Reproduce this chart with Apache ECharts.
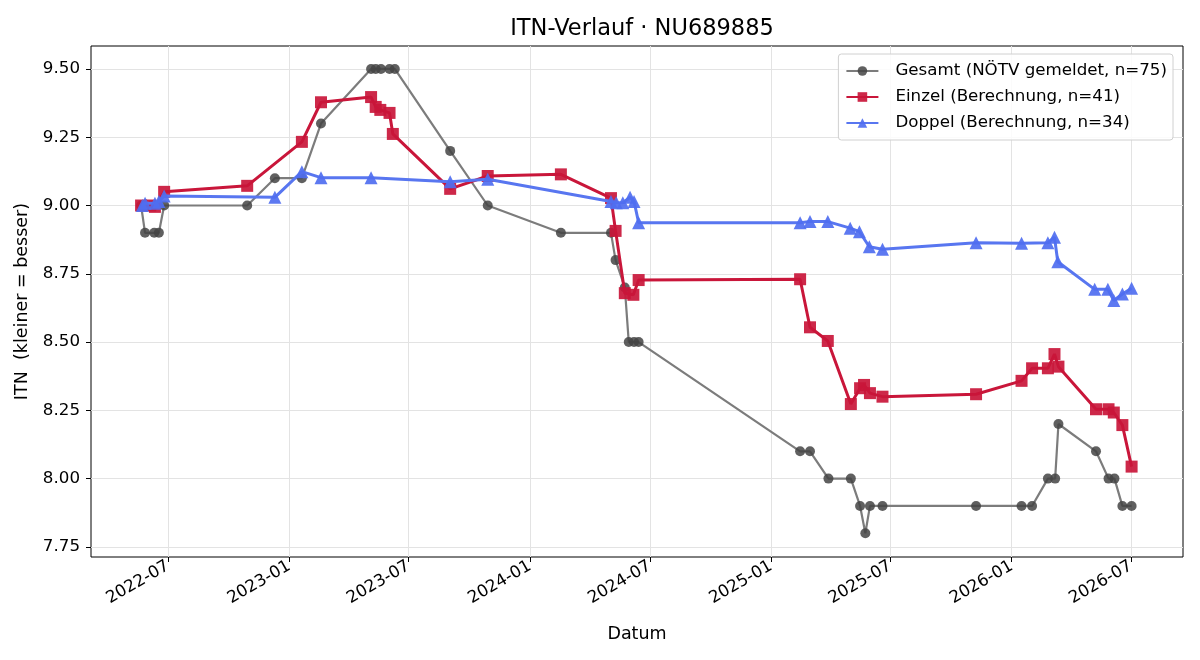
<!DOCTYPE html>
<html>
<head>
<meta charset="utf-8">
<title>ITN-Verlauf</title>
<script src="https://cdn.jsdelivr.net/npm/echarts@6/dist/echarts.min.js"></script>
<style>
  html, body { margin: 0; padding: 0; background: #fff; }
  #chart { width: 1200px; height: 660px; }
</style>
</head>
<body>
<div id="chart"></div>
<script>
// Gesamt (NÖTV gemeldet)
const gesamtDates = ['2022-05-21','2022-05-27','2022-06-10','2022-06-17','2022-06-25','2022-10-29','2022-12-10','2023-01-20','2023-02-18','2023-05-05','2023-05-12','2023-05-20','2023-06-02','2023-06-10','2023-09-02','2023-10-29','2024-02-17','2024-05-03','2024-05-10','2024-05-24','2024-05-30','2024-06-07','2024-06-14','2025-02-14','2025-03-01','2025-03-29','2025-05-02','2025-05-16','2025-05-24','2025-05-31','2025-06-19','2025-11-08','2026-01-16','2026-02-01','2026-02-25','2026-03-08','2026-03-13','2026-05-09','2026-05-28','2026-06-06','2026-06-18','2026-07-02'];
const gesamtValues = [9.0,8.9,8.9,8.9,9.0,9.0,9.1,9.1,9.3,9.5,9.5,9.5,9.5,9.5,9.2,9.0,8.9,8.9,8.8,8.7,8.5,8.5,8.5,8.1,8.1,8.0,8.0,7.9,7.8,7.9,7.9,7.9,7.9,7.9,8.0,8.0,8.2,8.1,8.0,8.0,7.9,7.9];

// Einzel (Berechnung)
const einzelDates = ['2022-05-21','2022-06-04','2022-06-11','2022-06-25','2022-10-29','2023-01-20','2023-02-18','2023-05-05','2023-05-12','2023-05-19','2023-06-02','2023-06-07','2023-09-02','2023-10-29','2024-02-17','2024-05-03','2024-05-10','2024-05-24','2024-06-06','2024-06-14','2025-02-14','2025-03-01','2025-03-28','2025-05-02','2025-05-16','2025-05-22','2025-05-31','2025-06-19','2025-11-08','2026-01-16','2026-02-01','2026-02-25','2026-03-07','2026-03-13','2026-05-09','2026-05-28','2026-06-05','2026-06-18','2026-07-02'];
const einzelValues = [9.0,9.0,8.995,9.05,9.072,9.233,9.378,9.397,9.361,9.35,9.339,9.262,9.061,9.108,9.114,9.027,8.907,8.679,8.673,8.727,8.73,8.554,8.504,8.273,8.331,8.343,8.313,8.30,8.309,8.358,8.404,8.404,8.456,8.41,8.254,8.254,8.242,8.196,8.044];

// Doppel (Berechnung)
const doppelDates = ['2022-05-23','2022-05-27','2022-06-11','2022-06-17','2022-06-25','2022-12-10','2023-01-20','2023-02-18','2023-05-05','2023-09-02','2023-10-29','2024-05-03','2024-05-11','2024-05-21','2024-06-01','2024-06-07','2024-06-14','2025-02-14','2025-03-01','2025-03-28','2025-05-01','2025-05-15','2025-05-30','2025-06-19','2025-11-08','2026-01-16','2026-02-25','2026-03-07','2026-03-12','2026-05-07','2026-05-27','2026-06-05','2026-06-18','2026-07-02'];
const doppelValues = [9.0,9.008,9.008,9.015,9.035,9.03,9.124,9.102,9.102,9.087,9.096,9.015,9.01,9.01,9.03,9.015,8.937,8.937,8.941,8.941,8.917,8.904,8.849,8.84,8.864,8.862,8.864,8.884,8.794,8.693,8.693,8.652,8.676,8.697];

const seriesNames = ['Gesamt (NÖTV gemeldet, n=75)', 'Einzel (Berechnung, n=41)', 'Doppel (Berechnung, n=34)'];

// tick labels
const xTicks = ['2022-07-01','2023-01-01','2023-07-01','2024-01-01','2024-07-01','2025-01-01','2025-07-01','2026-01-01','2026-07-01'];
const yTicks = [7.75, 8.0, 8.25, 8.5, 8.75, 9.0, 9.25, 9.5];

const xRange = ['2022-03-06', '2026-09-18'];
const yRange = [7.713, 9.584];

// dates -> timestamps (x axis is a plain value axis in ms)
const toTs = (s) => {
  const p = s.split('-').map(Number);
  return Date.UTC(p[0], p[1] - 1, p[2]);
};
const pairs = (dates, vals) => dates.map((d, i) => [toTs(d), vals[i]]);

const font = 'DejaVu Sans';
var myChart = echarts.init(document.getElementById('chart'));

var option = {
  animation: false,
  backgroundColor: '#fff',
  textStyle: { fontFamily: font },
  title: {
    text: 'ITN-Verlauf · NU689885',
    left: 637,
    textAlign: 'center',
    top: 13,
    textStyle: { fontFamily: font, fontSize: 22.5, fontWeight: 'normal', color: '#000' }
  },
  grid: {
    left: 91, right: 17, top: 46, bottom: 103,
    show: true, borderColor: '#000', borderWidth: 1, backgroundColor: 'transparent'
  },
  legend: {
    orient: 'vertical',
    right: 27,
    top: 54,
    padding: [7, 6, 7, 7],
    itemGap: 6,
    itemWidth: 32,
    itemHeight: 12,
    backgroundColor: 'rgba(255,255,255,0.85)',
    borderColor: '#d0d0d0',
    borderWidth: 1,
    borderRadius: 3,
    textStyle: { fontFamily: font, fontSize: 16.7, color: '#000', lineHeight: 20, padding: [0, 0, 0, 12] },
    data: seriesNames
  },
  xAxis: {
    type: 'value',
    min: toTs(xRange[0]),
    max: toTs(xRange[1]),
    name: 'Datum',
    nameLocation: 'middle',
    nameGap: 68,
    nameTextStyle: { fontFamily: font, fontSize: 17.5, color: '#000' },
    axisLine: { show: false },
    axisTick: { show: true, length: 5, lineStyle: { color: '#000' }, customValues: xTicks.map(toTs) },
    axisLabel: {
      customValues: xTicks.map(toTs),
      rotate: 30,
      margin: 8,
      fontFamily: font, fontSize: 16.7, color: '#000',
      formatter: function (v) {
        var d = new Date(v);
        var m = d.getUTCMonth() + 1;
        return d.getUTCFullYear() + '-' + (m < 10 ? '0' + m : m);
      }
    },
    splitLine: { show: true, lineStyle: { color: '#e3e3e3', width: 1 } }
  },
  yAxis: {
    type: 'value',
    min: yRange[0],
    max: yRange[1],
    name: 'ITN  (kleiner = besser)',
    nameLocation: 'middle',
    nameGap: 52,
    nameTextStyle: { fontFamily: font, fontSize: 17.5, color: '#000' },
    axisLine: { show: false },
    axisTick: { show: true, length: 5, lineStyle: { color: '#000' }, customValues: yTicks },
    axisLabel: {
      customValues: yTicks,
      margin: 11,
      fontFamily: font, fontSize: 16.7, color: '#000',
      formatter: function (v) { return v.toFixed(2); }
    },
    splitLine: { show: true, lineStyle: { color: '#e3e3e3', width: 1 } }
  },
  series: [
    {
      name: seriesNames[0],
      type: 'line',
      data: pairs(gesamtDates, gesamtValues),
      symbol: 'circle',
      symbolSize: 10,
      z: 2,
      lineStyle: { color: '#7c7c7c', width: 2.2 },
      itemStyle: { color: '#444', opacity: 0.85 }
    },
    {
      name: seriesNames[1],
      type: 'line',
      data: pairs(einzelDates, einzelValues),
      symbol: 'rect',
      symbolSize: 12,
      z: 3,
      lineStyle: { color: '#c9163a', width: 3 },
      itemStyle: { color: '#c9163a', opacity: 0.92 }
    },
    {
      name: seriesNames[2],
      type: 'line',
      data: pairs(doppelDates, doppelValues),
      symbol: 'triangle',
      symbolSize: 13,
      z: 4,
      lineStyle: { color: '#5876f0', width: 3 },
      itemStyle: { color: '#4f6ef0', opacity: 0.92 }
    }
  ]
};
myChart.setOption(option);
</script>
</body>
</html>
